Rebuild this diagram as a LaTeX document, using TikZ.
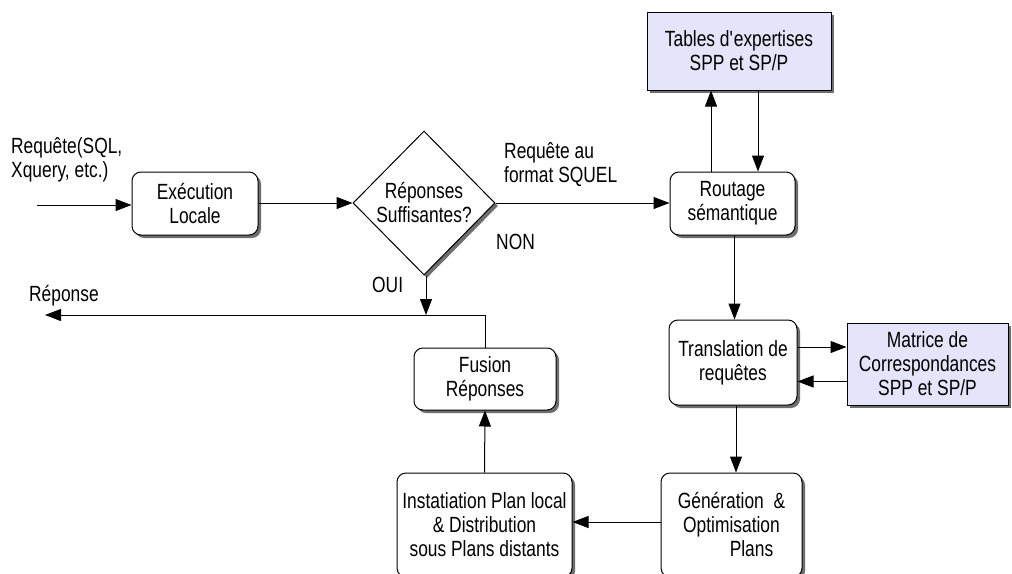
\documentclass[tikz,border=0pt]{standalone}
\usepackage{fontspec}
\setmainfont{Liberation Sans}[FakeStretch=0.79]
\usetikzlibrary{arrows.meta,shapes.geometric,shadows}
\definecolor{boxlav}{RGB}{228,228,250}
\definecolor{shade}{RGB}{110,110,110}
\begin{document}
\begin{tikzpicture}[x=1pt,y=-1pt,
  every node/.style={font=\fontsize{22}{24}\selectfont, align=center, inner sep=0pt},
  shadowed/.style={drop shadow={shadow xshift=3pt,shadow yshift=-3pt,fill=shade,opacity=1}},
  procbox/.style={draw, line width=1pt, rounded corners=9pt, fill=white, shadowed},
  databox/.style={draw, line width=1pt, fill=boxlav, shadowed},
  decision/.style={draw, line width=1pt, diamond, fill=white, shadowed},
  arr/.style={line width=1pt, -{Triangle[length=16pt,width=12pt]}},
  lbl/.style={align=left}]
\useasboundingbox (0,0) rectangle (1012,573);
\clip (0,0) rectangle (1012,573);
\fill[white] (0,0) rectangle (1012,573);

% processing steps
\node[procbox, minimum width=126pt, minimum height=63pt] (exec) at (195,203.5) {Exécution\\Locale};
\node[decision, minimum width=142pt, minimum height=144pt] (dec) at (424,203) {Réponses\\Suffisantes?};
\node[procbox, minimum width=125pt, minimum height=63pt] (rout) at (732.5,203.5) {Routage\\sémantique};
\node[databox, minimum width=184pt, minimum height=78pt] (tab) at (739,51) {Tables d\textquotesingle expertises\\SPP et SP/P};
\node[procbox, minimum width=128pt, minimum height=85pt] (trans) at (733,362.5) {Translation de\\requêtes};
\node[databox, minimum width=161pt, minimum height=82pt] (mat) at (927.5,364) {Matrice de\\Correspondances\\SPP et SP/P};
\node[procbox, minimum width=141pt, minimum height=104pt] (gen) at (731.5,525) {Génération \ \&\\Optimisation\\\hspace*{40pt}Plans};
\node[procbox, minimum width=175pt, minimum height=104pt] (inst) at (484.5,525) {Instatiation Plan local\\\& Distribution\\sous Plans distants};
\node[procbox, minimum width=142pt, minimum height=62pt] (fus) at (485,379) {Fusion\\Réponses};

% free ends
\coordinate (in) at (37,205);
\coordinate (out) at (45,315);
\coordinate (jfus) at (485,315);
\coordinate (jdec) at (426,315);

% labels
\node[lbl, anchor=north west] (lin) at (11,137) {Requête(SQL,\\Xquery, etc.)};
\node[lbl, anchor=north west] (lsq) at (504,142) {Requête au\\format SQUEL};
\node[anchor=west] (lnon) at (496,242) {NON};
\node[anchor=west] (loui) at (372,285) {OUI};
\node[anchor=west] (lrep) at (29,296) {Réponse};

% connectors
\draw[arr] (in) -- (exec.west |- in);
\draw[arr] (exec.east |- dec.west) -- (dec.west);
\draw[arr] (dec.east) -- (rout.west |- dec.east);
\draw[arr] ([xshift=-21.5pt]rout.north) -- ([xshift=-21.5pt]rout.north |- tab.south);
\draw[arr] ([xshift=19pt]tab.south) -- ([xshift=19pt]tab.south |- rout.north);
\draw[arr] ([xshift=2pt]rout.south) -- ([xshift=2pt]rout.south |- trans.north);
\draw[arr] ([yshift=15.5pt]trans.east) -- ([yshift=15.5pt]trans.east -| mat.west);
\draw[arr] ([yshift=-17.5pt]mat.west) -- ([yshift=-17.5pt]mat.west -| trans.east);
\draw[arr] ([xshift=3pt]trans.south) -- ([xshift=3pt]trans.south |- gen.north);
\draw[arr] ([yshift=3pt]gen.west) -- ([yshift=3pt]gen.west -| inst.east);
\draw[arr] (inst.north) -- (fus.south);
\draw[arr] (fus.north) -- (jfus) -- (out);
\draw[arr] ([xshift=2pt]dec.south) -- (jdec);
\end{tikzpicture}
\end{document}
